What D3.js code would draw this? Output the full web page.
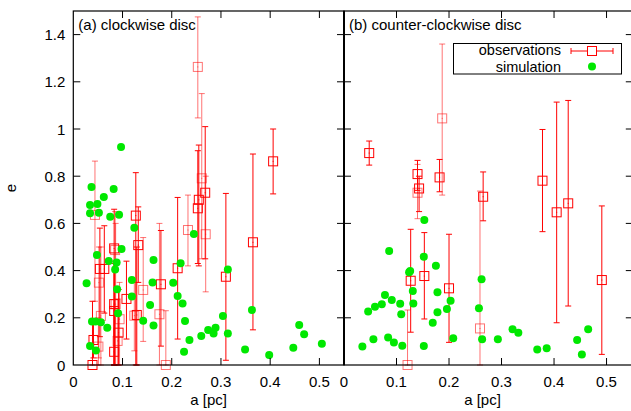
<!DOCTYPE html>
<html>
<head>
<meta charset="utf-8">
<script src="https://cdn.jsdelivr.net/npm/d3@7"></script>
<style>
  body { margin: 0; background: #fff; }
  svg { display: block; font-family: "Liberation Sans", Arial, sans-serif; }
</style>
</head>
<body>
<script>
// tick values
const xTicks = [0, 0.1, 0.2, 0.3, 0.4, 0.5];
const yTicks = [0, 0.2, 0.4, 0.6, 0.8, 1, 1.2, 1.4];
const panelTitles = ['(a) clockwise disc', '(b) counter-clockwise disc'];
const legendLabels = ['observations', 'simulation'];

// observations: [a, e, eLow, eHigh, faint]
const cwObs = [
  [0.044, 0.636, 0.27, 0.864, 1], [0.039, 0.0, 0.0, 0.27, 0], [0.041, 0.106, 0.03, 0.19, 0],
  [0.051, 0.078, 0.0, 0.20, 1], [0.052, 0.349, 0.03, 0.50, 1], [0.054, 0.407, 0.12, 0.58, 0],
  [0.063, 0.407, 0.22, 0.59, 0], [0.056, 0.208, 0.0, 0.50, 1], [0.083, 0.494, 0.0, 0.66, 0],
  [0.085, 0.487, 0.0, 0.65, 1], [0.083, 0.258, 0.0, 0.44, 0], [0.086, 0.258, 0.0, 0.60, 1],
  [0.083, 0.229, 0.0, 0.43, 0], [0.094, 0.194, 0.0, 0.35, 1], [0.092, 0.137, 0.0, 0.32, 0],
  [0.090, 0.102, 0.0, 0.28, 1], [0.083, 0.056, 0.0, 0.24, 0], [0.108, 0.280, 0.11, 0.44, 0],
  [0.127, 0.633, 0.0, 0.815, 0], [0.132, 0.508, 0.35, 0.67, 0], [0.129, 0.212, 0.0, 0.50, 0],
  [0.124, 0.209, 0.06, 0.35, 1], [0.142, 0.318, 0.10, 0.54, 1], [0.178, 0.342, 0.08, 0.57, 0],
  [0.175, 0.215, 0.0, 0.60, 1], [0.188, 0.0, 0.0, 0.23, 1], [0.212, 0.410, 0.11, 0.71, 0],
  [0.233, 0.572, 0.42, 0.72, 1], [0.253, 1.263, 1.047, 1.475, 1], [0.253, 0.664, 0.43, 0.908, 0],
  [0.255, 0.700, 0.42, 0.932, 0], [0.261, 0.791, 0.45, 1.15, 1], [0.268, 0.730, 0.45, 1.01, 0],
  [0.269, 0.554, 0.31, 0.80, 1], [0.310, 0.374, 0.02, 0.727, 0], [0.365, 0.520, 0.149, 0.894, 0],
  [0.406, 0.863, 0.725, 1.0, 0]
];
const ccwObs = [
  [0.048, 0.898, 0.847, 0.949, 0], [0.140, 0.809, 0.74, 0.867, 0], [0.140, 0.730, 0.62, 0.85, 1],
  [0.143, 0.748, 0.65, 0.80, 0], [0.182, 0.795, 0.734, 0.871, 0], [0.187, 1.045, 0.72, 1.36, 1],
  [0.265, 0.713, 0.611, 0.818, 0], [0.378, 0.781, 0.565, 0.998, 0], [0.405, 0.647, 0.179, 1.114, 0],
  [0.427, 0.685, 0.25, 1.121, 0], [0.491, 0.360, 0.045, 0.674, 0], [0.127, 0.357, 0.139, 0.575, 0],
  [0.121, 0.0, 0.0, 0.233, 1], [0.153, 0.377, 0.195, 0.561, 0], [0.200, 0.325, 0.096, 0.554, 0],
  [0.259, 0.155, 0.0, 0.737, 1]
];

// simulation: [a, e]
const cwSim = [
  [0.034, 0.678], [0.049, 0.682], [0.034, 0.643], [0.052, 0.645], [0.075, 0.628], [0.093, 0.637],
  [0.124, 0.582], [0.245, 0.555], [0.098, 0.491], [0.048, 0.466], [0.072, 0.441], [0.088, 0.434],
  [0.085, 0.405], [0.163, 0.445], [0.027, 0.346], [0.119, 0.360], [0.161, 0.350], [0.203, 0.349],
  [0.089, 0.321], [0.119, 0.290], [0.212, 0.292], [0.218, 0.431], [0.314, 0.405], [0.156, 0.254],
  [0.222, 0.261], [0.091, 0.219], [0.038, 0.184], [0.045, 0.184], [0.056, 0.181], [0.069, 0.158],
  [0.142, 0.188], [0.163, 0.167], [0.227, 0.186], [0.363, 0.233], [0.304, 0.208], [0.260, 0.123],
  [0.274, 0.148], [0.285, 0.134], [0.289, 0.158], [0.314, 0.134], [0.236, 0.106], [0.225, 0.056],
  [0.349, 0.066], [0.398, 0.042], [0.447, 0.073], [0.459, 0.169], [0.469, 0.130], [0.505, 0.090],
  [0.034, 0.080], [0.046, 0.061], [0.097, 0.924], [0.037, 0.754], [0.062, 0.712], [0.082, 0.746]
];
const ccwSim = [
  [0.035, 0.078], [0.046, 0.227], [0.056, 0.109], [0.059, 0.247], [0.072, 0.257], [0.078, 0.297],
  [0.084, 0.116], [0.086, 0.483], [0.091, 0.275], [0.095, 0.095], [0.107, 0.260], [0.109, 0.215],
  [0.111, 0.082], [0.124, 0.393], [0.126, 0.398], [0.131, 0.314], [0.132, 0.261], [0.153, 0.614],
  [0.152, 0.459], [0.152, 0.080], [0.175, 0.421], [0.178, 0.308], [0.178, 0.223], [0.169, 0.179],
  [0.196, 0.237], [0.203, 0.272], [0.208, 0.113], [0.257, 0.240], [0.262, 0.363], [0.263, 0.109],
  [0.293, 0.109], [0.321, 0.152], [0.332, 0.137], [0.368, 0.066], [0.386, 0.071], [0.444, 0.106],
  [0.453, 0.045], [0.465, 0.152]
];

const W = 631, H = 411;
const plotTop = 11, plotBottom = 365;
const red = '#ff0000', faintRed = 'rgba(255,0,0,0.55)', green = '#00e800';
const fontSize = 15;

const svg = d3.select('body').append('svg')
  .attr('width', W)
  .attr('height', H);

const y = d3.scaleLinear().domain([0, 1.5]).range([plotBottom, plotTop]);

const panels = [
  { left: 73.3, right: 344, obs: cwObs, sim: cwSim, title: panelTitles[0], yLabels: true },
  { left: 344, right: 632.8, obs: ccwObs, sim: ccwSim, title: panelTitles[1], yLabels: false }
];

const tickLen = 7, cap = 3, sq = 4.5;

panels.forEach((p) => {
  const x = d3.scaleLinear().domain([0, 0.55]).range([p.left, p.right]);
  const g = svg.append('g');

  // observations: error bars then squares
  const obs = g.append('g').selectAll('g').data(p.obs).enter().append('g')
    .attr('stroke', (d) => d[4] ? faintRed : red)
    .attr('fill', 'none')
    .attr('stroke-width', 1);
  obs.append('line')
    .attr('x1', (d) => x(d[0])).attr('x2', (d) => x(d[0]))
    .attr('y1', (d) => y(d[2])).attr('y2', (d) => y(d[3]));
  obs.append('line')
    .attr('x1', (d) => x(d[0]) - cap).attr('x2', (d) => x(d[0]) + cap)
    .attr('y1', (d) => y(d[3])).attr('y2', (d) => y(d[3]));
  obs.append('line')
    .attr('x1', (d) => x(d[0]) - cap).attr('x2', (d) => x(d[0]) + cap)
    .attr('y1', (d) => y(d[2])).attr('y2', (d) => y(d[2]));
  obs.append('rect')
    .attr('x', (d) => x(d[0]) - sq).attr('y', (d) => y(d[1]) - sq)
    .attr('width', sq * 2).attr('height', sq * 2);
  obs.append('rect')
    .attr('x', (d) => x(d[0]) - 0.5).attr('y', (d) => y(d[1]) - 0.5)
    .attr('width', 1).attr('height', 1).attr('stroke', 'none')
    .attr('fill', (d) => d[4] ? faintRed : red);

  // simulation points
  g.append('g').selectAll('circle').data(p.sim).enter().append('circle')
    .attr('cx', (d) => x(d[0]))
    .attr('cy', (d) => y(d[1]))
    .attr('r', 4)
    .attr('fill', green);

  // frame
  g.append('rect')
    .attr('x', p.left).attr('y', plotTop)
    .attr('width', p.right - p.left).attr('height', plotBottom - plotTop)
    .attr('fill', 'none').attr('stroke', '#000').attr('stroke-width', 1.2);

  // ticks on all four sides, pointing in
  const tk = g.append('g').attr('stroke', '#000');
  xTicks.filter((t) => t > 0).forEach((t) => {
    tk.append('line').attr('x1', x(t)).attr('x2', x(t)).attr('y1', plotBottom).attr('y2', plotBottom - tickLen);
    tk.append('line').attr('x1', x(t)).attr('x2', x(t)).attr('y1', plotTop).attr('y2', plotTop + tickLen);
  });
  yTicks.filter((t) => t > 0).forEach((t) => {
    tk.append('line').attr('x1', p.left).attr('x2', p.left + tickLen).attr('y1', y(t)).attr('y2', y(t));
    tk.append('line').attr('x1', p.right).attr('x2', p.right - tickLen).attr('y1', y(t)).attr('y2', y(t));
  });

  g.selectAll('.xl').data(xTicks).enter().append('text')
    .attr('x', (d) => x(d)).attr('y', plotBottom + 22)
    .attr('text-anchor', 'middle').attr('font-size', fontSize)
    .text((d) => d);

  if (p.yLabels) {
    g.selectAll('.yl').data(yTicks).enter().append('text')
      .attr('x', p.left - 8).attr('y', (d) => y(d) + 5.5)
      .attr('text-anchor', 'end').attr('font-size', fontSize)
      .text((d) => d);
  }

  g.append('text')
    .attr('x', (p.left + Math.min(p.right, W)) / 2 + (p.yLabels ? 0 : -5)).attr('y', 405)
    .attr('text-anchor', 'middle').attr('font-size', fontSize)
    .text('a [pc]');

  g.append('text')
    .attr('x', p.left + 5).attr('y', 30)
    .attr('font-size', fontSize)
    .text(p.title);
});

// shared border a bit heavier
svg.append('line').attr('x1', 344).attr('x2', 344).attr('y1', plotTop).attr('y2', plotBottom)
  .attr('stroke', '#000').attr('stroke-width', 2);

svg.append('text')
  .attr('transform', 'translate(16,188) rotate(-90)')
  .attr('text-anchor', 'middle').attr('font-size', fontSize)
  .text('e');

// legend
const lg = svg.append('g');
lg.append('rect').attr('x', 453.5).attr('y', 43.5).attr('width', 168).attr('height', 30.5)
  .attr('fill', '#fff').attr('stroke', '#000');
lg.append('text').attr('x', 561).attr('y', 55).attr('text-anchor', 'end').attr('font-size', 14.5)
  .text(legendLabels[0]);
lg.append('text').attr('x', 561).attr('y', 71.5).attr('text-anchor', 'end').attr('font-size', 14.5)
  .text(legendLabels[1]);
const lo = lg.append('g').attr('stroke', red).attr('fill', 'none');
lo.append('line').attr('x1', 571).attr('x2', 613).attr('y1', 51).attr('y2', 51);
lo.append('line').attr('x1', 571).attr('x2', 571).attr('y1', 48).attr('y2', 54);
lo.append('line').attr('x1', 613).attr('x2', 613).attr('y1', 48).attr('y2', 54);
lo.append('rect').attr('x', 587.5).attr('y', 46.5).attr('width', 9).attr('height', 9).attr('fill', '#fff');
lg.append('circle').attr('cx', 592).attr('cy', 66.5).attr('r', 4).attr('fill', green);
</script>
</body>
</html>
